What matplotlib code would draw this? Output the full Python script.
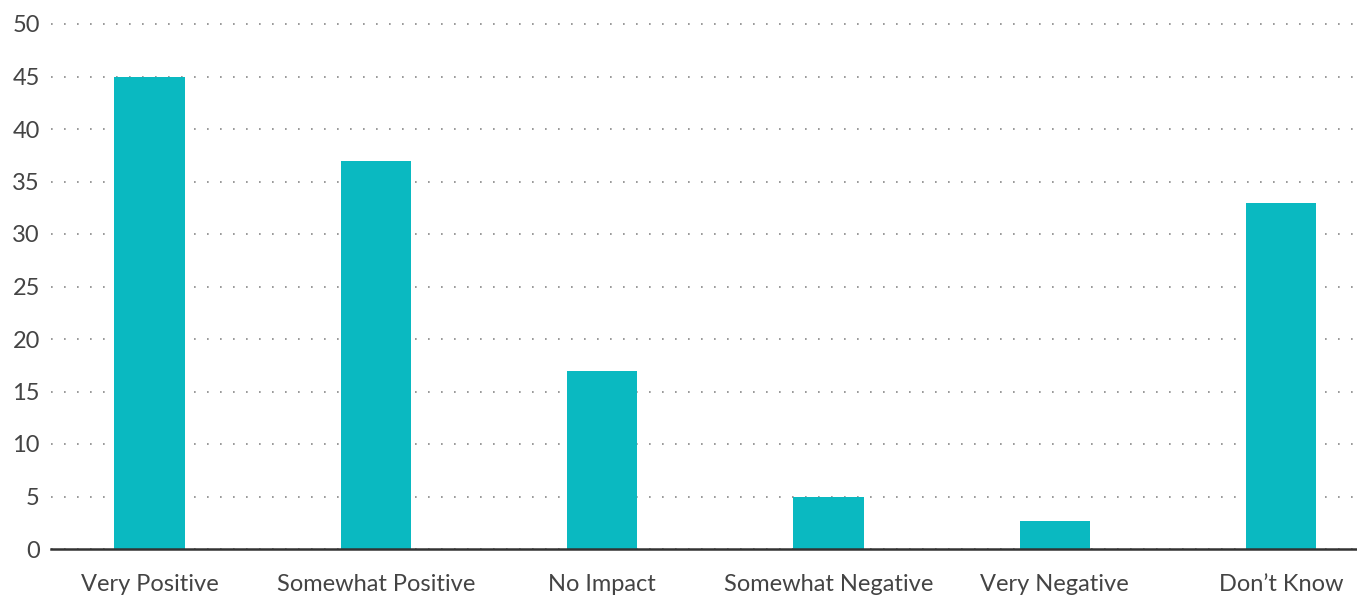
import matplotlib
matplotlib.use("Agg")
import matplotlib.pyplot as plt
import numpy as np

categories = ["Very Positive", "Somewhat Positive", "No Impact",
              "Somewhat Negative", "Very Negative", "Don\u2019t Know"]
values = [45, 37, 17, 5, 2.7, 33]
yticks = [0, 5, 10, 15, 20, 25, 30, 35, 40, 45, 50]

plt.rcParams['font.family'] = ['Lato', 'DejaVu Sans']

W, H = 1357, 595
fig = plt.figure(figsize=(W / 100, H / 100), dpi=100)
left_px, right_px, base_px, top_px = 51, 1357, 549, 13.5
ax = fig.add_axes([left_px / W, (H - base_px) / H,
                   (right_px - left_px) / W, (base_px - top_px) / H])

x = np.arange(len(categories))
ax.bar(x, values, width=0.31, color="#0ab9c1", zorder=3)
ax.set_xlim(-0.435, 5.335)
ax.set_ylim(0, 51)
ax.set_yticks(yticks)
ax.set_xticks(x)
ax.set_xticklabels(categories)
ax.tick_params(axis='both', length=0, labelsize=17, labelcolor="#444444")
ax.tick_params(axis='y', pad=8)
ax.tick_params(axis='x', pad=18)

ax.yaxis.grid(True, color="#888888", linewidth=1.2, linestyle=(0, (1, 6.8)), zorder=0)
ax.set_axisbelow(True)

for s in ["top", "right", "left"]:
    ax.spines[s].set_visible(False)
ax.spines["bottom"].set_color("#333333")
ax.spines["bottom"].set_linewidth(1.8)
ax.spines["bottom"].set_zorder(4)

fig.savefig("out.png", dpi=100)
